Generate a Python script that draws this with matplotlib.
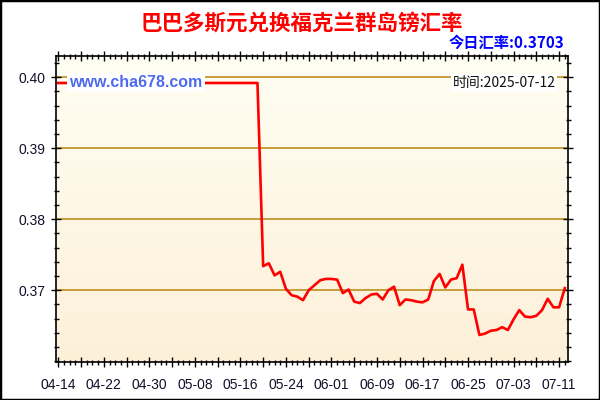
import numpy as np
import pandas as pd
import matplotlib
matplotlib.use("Agg")
import matplotlib.pyplot as plt
from matplotlib.patches import Rectangle

plt.rcParams['font.family'] = ['Liberation Sans', 'Noto Sans CJK SC', 'DejaVu Sans']

title = "巴巴多斯元兑换福克兰群岛镑汇率"
today_rate = "今日汇率:0.3703"
site = "www.cha678.com"
date_label = "时间:2025-07-12"

dates = pd.date_range("2025-04-14", "2025-07-12", freq="D")
rates = [0.3992] * 36 + [
    0.3734, 0.3738, 0.3721, 0.3726, 0.3702, 0.3693, 0.3691, 0.3686, 0.3700, 0.3707,
    0.3714, 0.3716, 0.3716, 0.3715, 0.3696, 0.3701, 0.3684, 0.3682, 0.3689, 0.3694,
    0.3695, 0.3687, 0.3700, 0.3705, 0.3679, 0.3687, 0.3686, 0.3684, 0.3683, 0.3687,
    0.3713, 0.3723, 0.3704, 0.3715, 0.3717, 0.3736, 0.3673, 0.3673, 0.3637, 0.3639,
    0.3643, 0.3644, 0.3648, 0.3644, 0.3659, 0.3672, 0.3663, 0.3662, 0.3664, 0.3672,
    0.3688, 0.3676, 0.3676, 0.3703,
]
y_ticks = [0.37, 0.38, 0.39, 0.40]

fig = plt.figure(figsize=(6, 4), dpi=100)
fig.patches.append(Rectangle((0, 0), 1, 1, transform=fig.transFigure, fill=False,
                             edgecolor='black', linewidth=2.5, zorder=10))
ax = fig.add_axes([0.0928, 0.0958, 0.8542, 0.7642])

# cream gradient background, lighter at the top
grad = np.linspace(0, 1, 256).reshape(-1, 1)
cmap = matplotlib.colors.LinearSegmentedColormap.from_list("bg", ["#FFFEF3", "#FDF0D9"])
ax.imshow(grad, cmap=cmap, aspect='auto', extent=[0, 1, 0, 1],
          transform=ax.transAxes, zorder=0)

for yv in y_ticks:
    ax.axhline(yv, color='#B8860B', linewidth=1.1, zorder=1)

ax.plot(dates, rates, color='#FF0000', linewidth=1.9, zorder=3)

ax.set_xlim(dates[0] - pd.Timedelta(hours=11), dates[0] + pd.Timedelta(days=89.6))
ax.set_ylim(0.35994, 0.4030)

major_dates = dates[::4]
ax.set_xticks(major_dates)
ax.set_xticklabels([d.strftime('%m-%d') if i % 2 == 0 else '' for i, d in enumerate(major_dates)])
ax.set_xticks(dates, minor=True)
ax.set_yticks(y_ticks)
ax.set_yticklabels(['%.2f' % v for v in y_ticks])
ax.set_yticks(np.arange(0.360, 0.4031, 0.002), minor=True)

ax.tick_params(axis='both', which='major', direction='inout', length=7, width=1,
               labelsize=10, labelcolor='#10102a', pad=4, top=True, right=True)
ax.tick_params(axis='both', which='minor', direction='inout', length=3.6, width=1,
               top=True, right=True)
ax.tick_params(axis='x', which='major', pad=8)
for s in ax.spines.values():
    s.set_linewidth(1.2)

fig.text(0.503, 0.942, title, ha='center', va='center', color='#FF0000',
         fontsize=15.5, fontweight='bold', family=['Noto Sans CJK SC'])
fig.text(0.94, 0.892, today_rate, ha='right', va='center', color='#0000FF',
         fontsize=11, fontweight='bold', family=['Noto Sans CJK SC', 'Liberation Sans'])
ax.text(0.027, 0.912, site, transform=ax.transAxes, ha='left', va='center',
        color='#4F6BED', fontsize=11.5, fontweight='bold', zorder=4,
        bbox=dict(facecolor='white', edgecolor='none', pad=1.5))
ax.text(0.975, 0.912, date_label, transform=ax.transAxes, ha='right', va='center',
        color='#111111', fontsize=10, zorder=4, family=['Noto Sans CJK SC'],
        bbox=dict(facecolor='white', edgecolor='none', pad=1.2))

fig.savefig("out.png", dpi=100)
